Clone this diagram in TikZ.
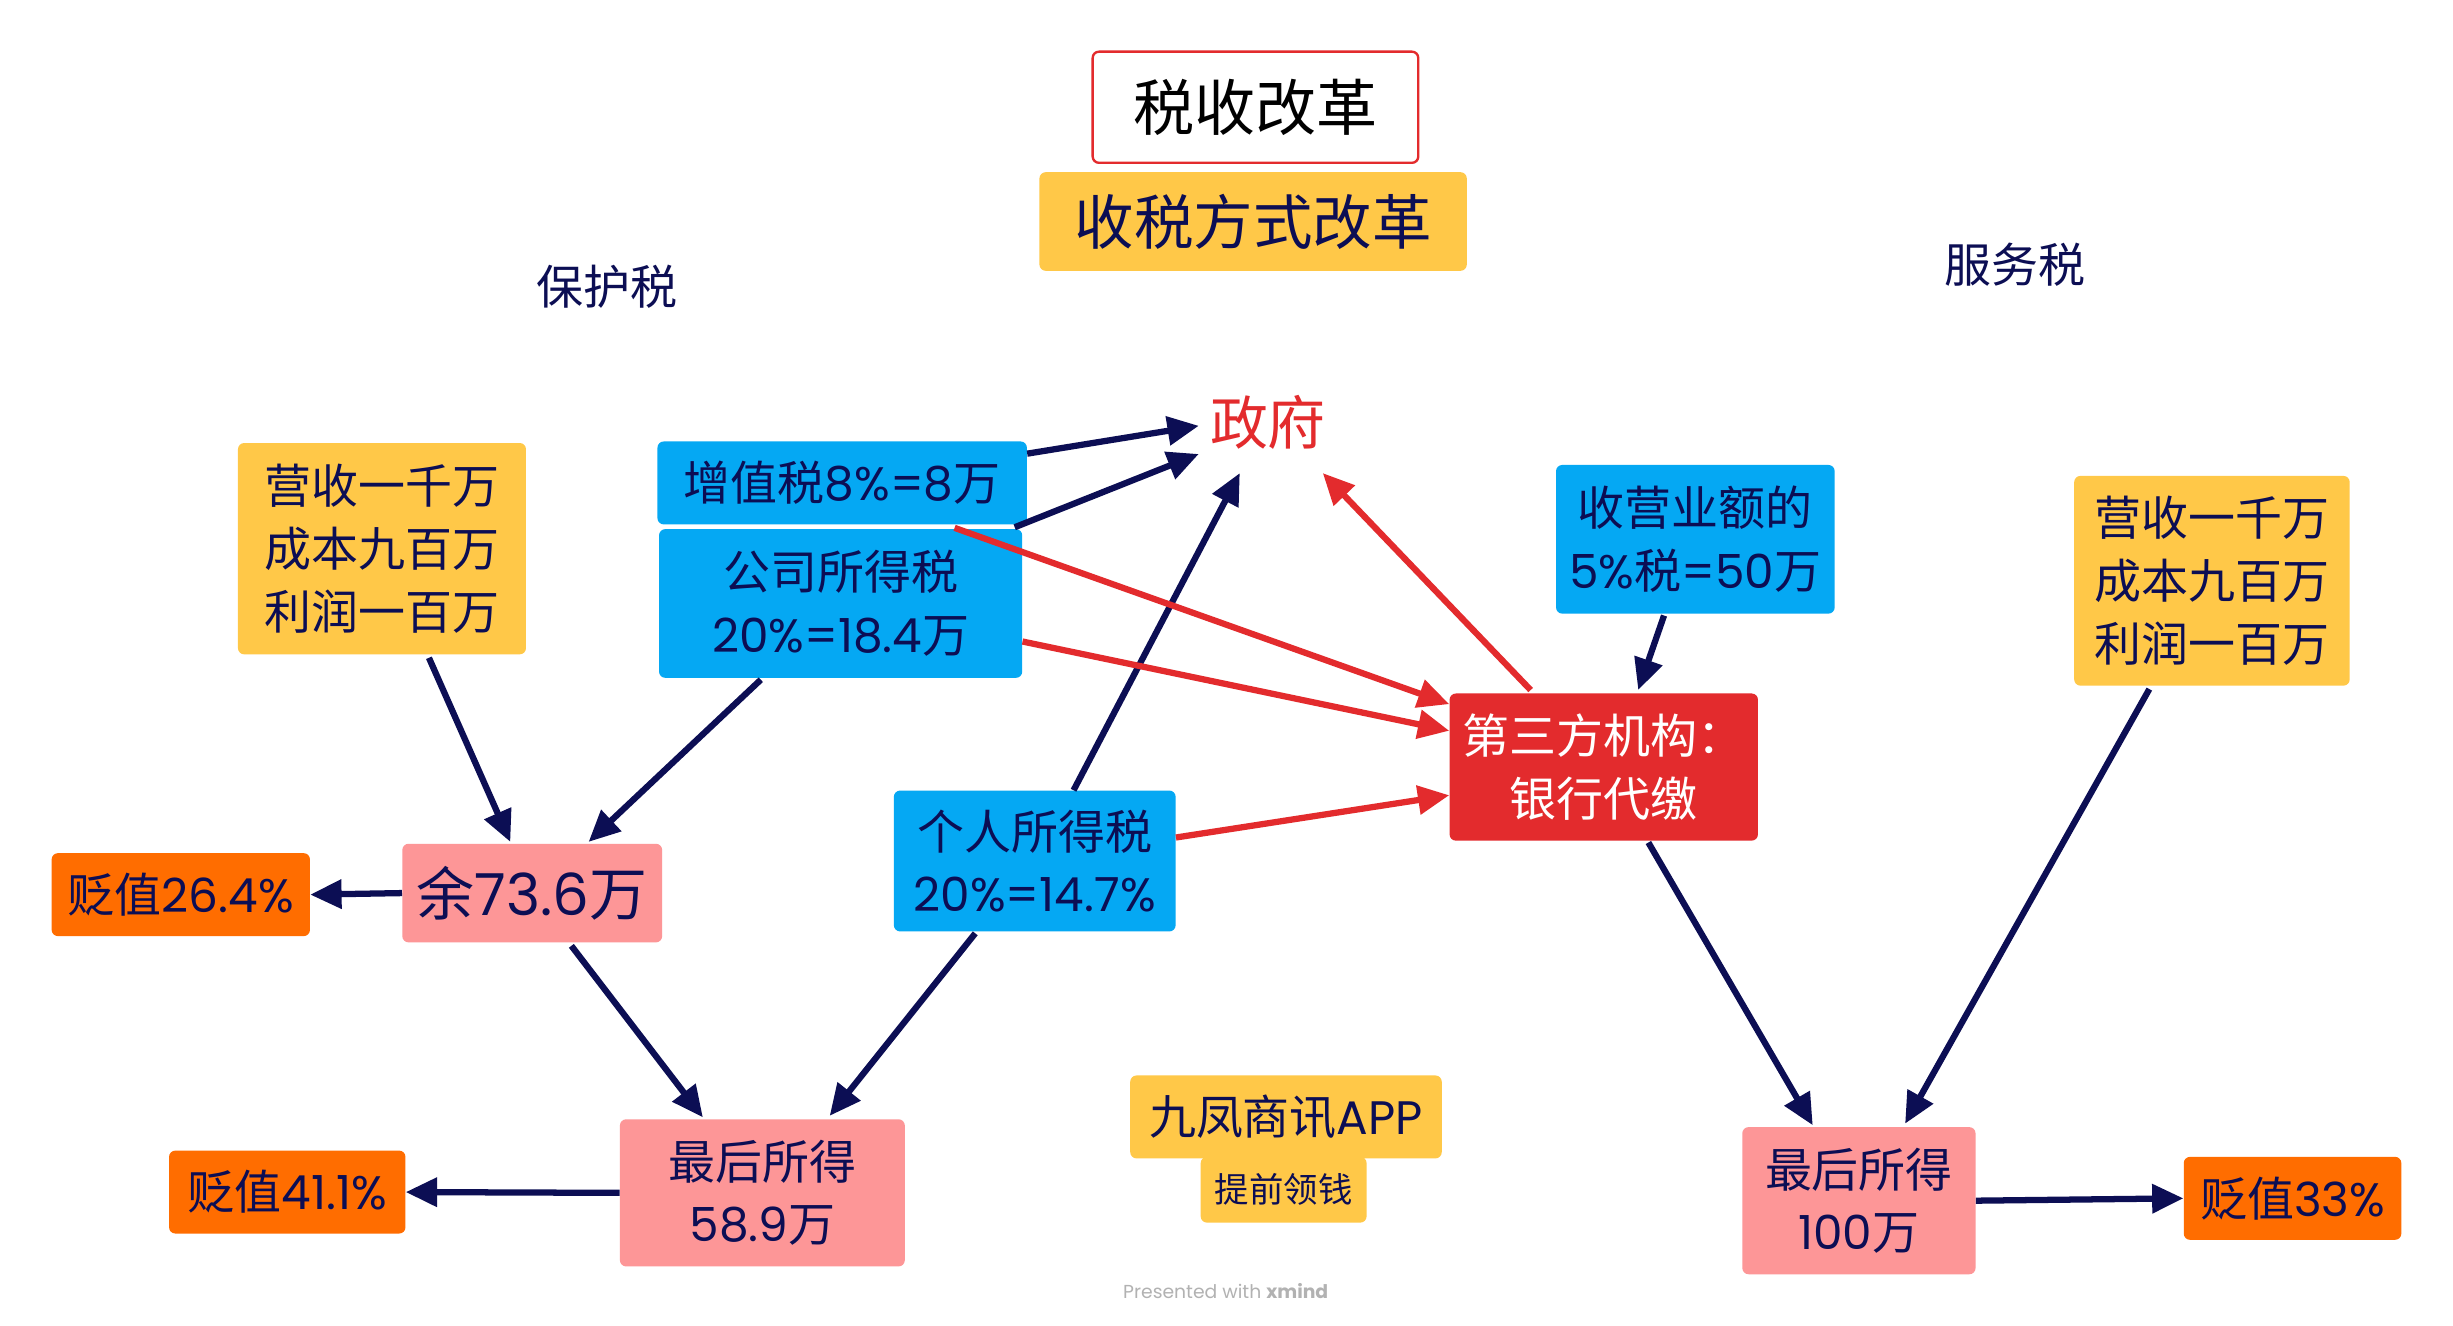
\documentclass[tikz,border=0pt]{standalone}
\usepackage{fontspec}
\setmainfont{Noto Sans CJK SC}
\newfontfamily\lat{Poppins}
\usetikzlibrary{arrows.meta,calc}
\definecolor{navy}{RGB}{12,14,84}
\definecolor{boxblue}{RGB}{5,168,243}
\definecolor{boxyellow}{RGB}{255,200,72}
\definecolor{boxpink}{RGB}{253,150,151}
\definecolor{boxorange}{RGB}{255,109,0}
\definecolor{boxred}{RGB}{227,43,45}
\newcommand{\fs}[1]{\fontsize{#1}{40}\selectfont}
\newcommand{\la}[1]{{\lat #1}}
\begin{document}
\begin{tikzpicture}[x=1pt,y=-1pt,
  box/.style={rounded corners=4pt, inner sep=0pt, align=center, text=navy},
  yel/.style={box, fill=boxyellow},
  blu/.style={box, fill=boxblue},
  pnk/.style={box, fill=boxpink},
  org/.style={box, fill=boxorange},
  lbl/.style={inner sep=0pt, text=navy, font=\fs{30}},
  arr/.style={draw=navy, line width=4pt, -{Triangle[length=20pt,width=18pt]}},
  rarr/.style={draw=boxred, line width=4pt, -{Triangle[length=20pt,width=18pt]}}
]
\fill[white] (0,0) rectangle (1567,847);
\useasboundingbox (0,0) rectangle (1567,847);

% title
\node[box, draw=boxred, line width=1.5pt, fill=white, text=black, minimum width=208pt, minimum height=71pt, font=\fs{39}] (t1) at (802,68.5) {税收改革};
\node[yel, minimum width=273pt, minimum height=63pt, font=\fs{38}] (t2) at (800.5,141.5) {收税方式改革};
\node[lbl] (bh) at (388,183) {保护税};
\node[lbl] (fw) at (1287,169) {服务税};
\node[inner sep=0pt, text=boxred, font=\fs{37}, minimum width=76pt, minimum height=40pt] (zf) at (810,270) {政府};

% left side
\node[yel, minimum width=184pt, minimum height=135pt, font=\fs{30}] (y1) at (244,350.5) {营收一千万\\成本九百万\\利润一百万};
\node[blu, minimum width=236pt, minimum height=53pt, font=\fs{30}] (zz) at (538,308.5) {增值税\la{8\%=8}万};
\node[blu, minimum width=232pt, minimum height=95pt, font=\fs{30}] (gs) at (537,385.5) {公司所得税\\\la{20\%=18.4}万};
\node[pnk, minimum width=166pt, minimum height=63pt, font=\fs{37}] (yu) at (340,570.5) {余\la{73.6}万};
\node[org, minimum width=165pt, minimum height=53pt, font=\fs{30}] (b1) at (115.5,571.5) {贬值\la{26.4\%}};
\node[blu, minimum width=180pt, minimum height=90pt, font=\fs{30}] (gr) at (661,550) {个人所得税\\\la{20\%=14.7\%}};
\node[pnk, minimum width=182pt, minimum height=94pt, font=\fs{30}] (zh1) at (487,762) {最后所得\\\la{58.9}万};
\node[org, minimum width=151pt, minimum height=53pt, font=\fs{30}] (b2) at (183.5,761.5) {贬值\la{41.1\%}};

% middle bottom
\node[yel, minimum width=106pt, minimum height=42pt, font=\fs{22}] (tq) at (820,760) {提前领钱};
\node[yel, minimum width=199pt, minimum height=53pt, font=\fs{30}] (app) at (821.5,713.5) {九凤商讯\la{APP}};
\node[inner sep=0pt, text=black!30, font=\lat\fontsize{12}{14}\selectfont] (xm) at (783,825) {Presented with \textbf{xmind}};

% right side
\node[blu, minimum width=178pt, minimum height=95pt, font=\fs{30}] (sy) at (1083,344.5) {收营业额的\\\la{5\%}税\la{=50}万};
\node[box, fill=boxred, text=white, minimum width=197pt, minimum height=94pt, font=\fs{30}] (dsf) at (1024.5,490) {第三方机构：\\银行代缴};
\node[yel, minimum width=176pt, minimum height=134pt, font=\fs{30}] (y2) at (1413,371) {营收一千万\\成本九百万\\利润一百万};
\node[pnk, minimum width=149pt, minimum height=94pt, font=\fs{30}] (zh2) at (1187.5,767) {最后所得\\\la{100}万};
\node[org, minimum width=139pt, minimum height=53pt, font=\fs{30}] (b3) at (1464.5,765.5) {贬值\la{33\%}};

% navy arrows
\draw[arr] ($(zz.north east)+(0,8)$) -- ($(zf.west)+(-6,2)$);
\draw[arr] ($(gs.north east)+(-5,-1)$) -- ($(zf.west)+(-6,20)$);
\draw[arr] ($(gr.north west)+(115,0)$) -- ($(zf.south)+(-18,12)$);
\draw[arr] ($(sy.south)+(-20,1)$) -- ($(dsf.north)+(22,-2)$);
\draw[arr] ($(y1.south)+(30,2)$) -- ($(yu.north)+(-14,-1)$);
\draw[arr] ($(gs.south)+(-51,1)$) -- ($(yu.north)+(36,-1)$);
\draw[arr] (yu.west) -- (b1.east);
\draw[arr] ($(yu.south)+(25,2)$) -- ($(zh1.north)+(-38,-1)$);
\draw[arr] ($(gr.south)+(-38,1)$) -- ($(zh1.north)+(43,-2)$);
\draw[arr] (zh1.west) -- (b2.east);
\draw[arr] ($(dsf.south)+(28.5,1)$) -- ($(zh2.north)+(-29.5,-1)$);
\draw[arr] ($(y2.south)+(-40,2)$) -- ($(zh2.north)+(29.5,-2)$);
\draw[arr] (zh2.east) -- (b3.west);

% red arrows
\draw[rarr] ($(zz.south west)+(190,2)$) -- ($(dsf.north west)+(0,7)$);
\draw[rarr] ($(gs.north east)+(0,72)$) -- ($(dsf.north west)+(0,24)$);
\draw[rarr] ($(gr.east)+(0,-15)$) -- ($(dsf.west)+(0,18)$);
\draw[rarr] ($(dsf.north west)+(52,-2)$) -- ($(zf.south)+(35,12)$);
\end{tikzpicture}
\end{document}
